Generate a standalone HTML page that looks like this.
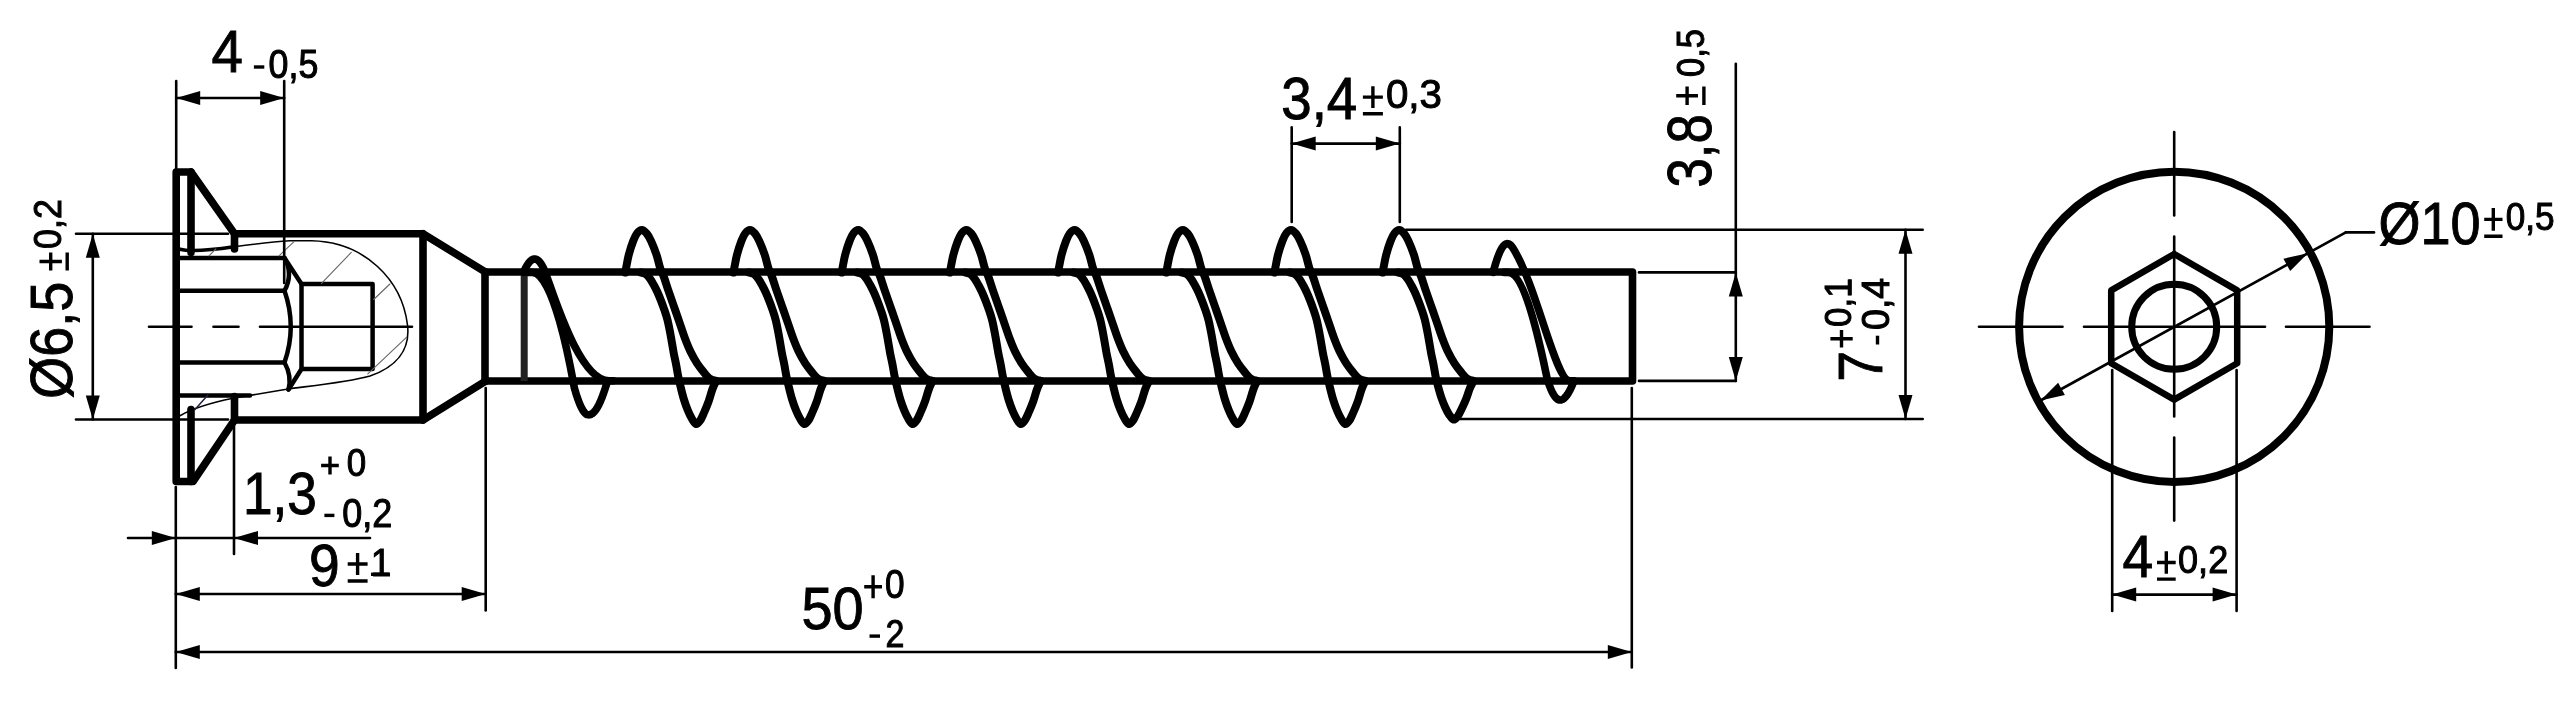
<!DOCTYPE html>
<html><head><meta charset="utf-8"><style>
html,body{margin:0;padding:0;background:#fff;overflow:hidden}
svg{display:block;will-change:transform}
text{font-family:"Liberation Sans",sans-serif;font-size:100px;fill:#000;stroke:#000;stroke-linejoin:miter}
</style></head><body>
<svg width="2565" height="721" viewBox="0 0 2565 721">
<rect width="2565" height="721" fill="#fff"/>
<g fill="none" stroke="#000" stroke-linecap="round" stroke-linejoin="round">
<polyline points="191.0,252.5 191.0,172.0 176.2,172.0 176.2,481.5 193.0,481.5 234.3,420.3" stroke-width="7.6" />
<polyline points="191.0,172.0 234.5,233.7 234.5,249.0" stroke-width="7.6" />
<polyline points="191.0,409.5 191.0,481.5" stroke-width="7.6" />
<polyline points="234.5,396.5 234.5,420.0" stroke-width="7.6" />
<polyline points="234.5,233.7 423.0,233.7 423.0,420.0 234.5,420.0" stroke-width="7.6" />
<polyline points="423.0,233.7 485.0,271.8" stroke-width="7.6" />
<polyline points="423.0,420.0 485.0,381.5" stroke-width="7.6" />
<polyline points="485.0,271.8 485.0,381.5" stroke-width="7.6" />
<polyline points="485.0,272.0 1632.5,272.0 1632.5,381.0 485.0,381.0" stroke-width="7.6" />
<line x1="524.2" y1="272.0" x2="524.2" y2="381.0" stroke-width="7" stroke="#222" stroke-linecap="butt"/>
<polyline points="180.0,258.0 284.5,258.0" stroke-width="4.5" />
<polyline points="180.0,290.8 284.5,290.8" stroke-width="4.5" />
<polyline points="180.0,362.5 284.5,362.5" stroke-width="4.5" />
<polyline points="180.0,395.5 250.0,395.5" stroke-width="4.5" />
<polyline points="284.5,258.0 301.5,284.0" stroke-width="4.5" />
<polyline points="288.5,389.5 301.5,369.0" stroke-width="4.5" />
<polyline points="301.5,284.0 372.6,284.0 372.6,369.0 301.5,369.0 301.5,284.0" stroke-width="4.5" />
<path d="M284.5,258 Q293.5,274 284.5,290.8" stroke-width="4.5" />
<path d="M284.5,290.8 Q297,326.7 284.5,362.5" stroke-width="4.5" />
<path d="M284.5,362.5 Q292,376 288.5,389.5" stroke-width="4.5" />
<path d="M180,249.2 C190,252 205,251 234,246.8" stroke-width="3.6" />
<path d="M234,246.8 C255,244 270,242 290,240.8 L311.5,240.8 C365,242 402,280 407.5,325 C410.5,350 396,367 370,376 C345,383 300,387 288.2,389 C265,393 240,397 233,398.3 C210,403 190,410 180,415.7" stroke-width="1.6" />
<line x1="209.0" y1="255.8" x2="215.8" y2="249.0" stroke-width="1.1" stroke="#666"/>
<line x1="279.0" y1="255.8" x2="294.0" y2="241.6" stroke-width="1.1" stroke="#666"/>
<line x1="321.5" y1="283.3" x2="351.3" y2="252.4" stroke-width="1.1" stroke="#666"/>
<line x1="373.7" y1="299.5" x2="389.9" y2="284.0" stroke-width="1.1" stroke="#666"/>
<line x1="367.8" y1="373.8" x2="406.7" y2="337.2" stroke-width="1.1" stroke="#666"/>
<line x1="195.0" y1="409.6" x2="207.9" y2="395.1" stroke-width="1.5" stroke="#224"/>
<line x1="149.0" y1="326.7" x2="191.5" y2="326.7" stroke-width="2.6" />
<line x1="213.5" y1="326.7" x2="238.5" y2="326.7" stroke-width="2.6" />
<line x1="260.0" y1="326.7" x2="412.0" y2="326.7" stroke-width="2.6" />
<path d="M523.48,272.38 L524.00,271.23 L524.52,270.11 L525.04,269.05 L525.57,268.03 L526.09,267.06 L526.61,266.13 L527.13,265.26 L527.65,264.45 L528.17,263.68 L528.69,262.97 L529.21,262.32 L529.74,261.72 L530.26,261.18 L530.78,260.69 L531.30,260.27 L531.82,259.90 L532.34,259.60 L532.86,259.35 L533.38,259.17 L533.91,259.05 L534.43,258.99 L534.95,259.00 L535.47,259.07 L535.99,259.20 L536.51,259.39 L537.03,259.65 L537.55,259.97 L538.08,260.36 L538.60,260.81 L539.12,261.33 L539.64,261.91 L540.16,262.55 L540.68,263.26 L541.20,264.03 L541.72,264.86 L542.25,265.75 L542.77,266.71 L543.29,267.73 L543.81,268.81 C550.55,283.15 577.19,380.80 609.28,380.80 L613.28,380.8" stroke-width="7.6" />
<path d="M528.20,272.4 L532.20,272.40 C555.52,272.40 573.66,385.41 574.34,387.83 L574.34,387.83 L574.88,389.71 L575.42,391.54 L575.96,393.31 L576.50,395.02 L577.04,396.68 L577.57,398.28 L578.11,399.81 L578.65,401.27 L579.19,402.67 L579.73,404.01 L580.27,405.27 L580.81,406.46 L581.35,407.57 L581.89,408.61 L582.42,409.58 L582.96,410.47 L583.50,411.27 L584.04,412.00 L584.58,412.65 L585.12,413.22 L585.66,413.70 L586.20,414.10 L586.74,414.41 L587.30,414.64 L587.97,414.78 L588.63,414.84 L589.29,414.81 L589.96,414.69 L590.62,414.49 L591.28,414.19 L591.95,413.81 L592.61,413.34 L593.28,412.78 L593.94,412.14 L594.60,411.41 L595.27,410.59 L595.93,409.68 L596.60,408.69 L597.26,407.61 L597.92,406.44 L598.59,405.20 L599.25,403.87 L599.92,402.45 L600.58,400.96 L601.24,399.39 L601.91,397.73 L602.57,396.00 L603.24,394.20 L603.90,392.32 L604.56,390.36 L605.23,388.33 L605.89,386.24 L606.56,384.08 L607.22,381.85 L607.52,380.82" stroke-width="7.6" />
<path d="M625.10,272.50 C625.40,271.17 625.38,271.47 626.00,268.50 C626.62,265.53 627.58,259.32 628.80,254.70 C630.02,250.08 631.93,244.35 633.30,240.80 C634.67,237.25 635.58,235.22 637.00,233.40 C638.42,231.58 640.17,229.87 641.80,229.90 C643.43,229.93 645.27,231.78 646.80,233.60 C648.33,235.42 649.38,237.28 651.00,240.80 C652.62,244.32 654.95,250.08 656.50,254.70 C658.05,259.32 659.07,264.78 660.30,268.50 C661.53,272.22 662.58,273.42 663.90,277.00 C665.22,280.58 666.58,285.25 668.20,290.00 C669.82,294.75 671.80,300.33 673.60,305.50 C675.40,310.67 677.12,315.55 679.00,321.00 C680.88,326.45 683.03,333.20 684.90,338.20 C686.77,343.20 688.17,346.80 690.20,351.00 C692.23,355.20 694.73,359.73 697.10,363.40 C699.47,367.07 702.32,370.48 704.40,373.00 C706.48,375.52 707.73,377.20 709.60,378.50 C711.47,379.80 712.93,380.42 715.60,380.80" stroke-width="8" />
<path d="M640.60,272.50 C643.17,272.80 644.35,273.17 646.00,274.30 C647.65,275.43 649.15,277.43 650.50,279.30 C651.85,281.17 652.92,283.30 654.10,285.50 C655.28,287.70 656.43,289.92 657.60,292.50 C658.77,295.08 659.97,298.08 661.10,301.00 C662.23,303.92 663.33,306.83 664.40,310.00 C665.47,313.17 666.50,316.00 667.50,320.00 C668.50,324.00 669.38,328.60 670.40,334.00 C671.42,339.40 672.65,347.32 673.60,352.40 C674.55,357.48 675.32,360.43 676.10,364.50 C676.88,368.57 677.50,372.88 678.30,376.80 C679.10,380.72 679.93,384.13 680.90,388.00 C681.87,391.87 682.93,396.25 684.10,400.00 C685.27,403.75 686.62,407.42 687.90,410.50 C689.18,413.58 690.45,416.25 691.80,418.50 C693.15,420.75 694.60,423.67 696.00,424.00 C697.40,424.33 698.85,422.42 700.20,420.50 C701.55,418.58 702.67,415.78 704.10,412.50 C705.53,409.22 707.40,404.72 708.80,400.80 C710.20,396.88 711.28,392.30 712.50,389.00 C713.72,385.70 714.90,383.67 716.10,381.00" stroke-width="8" />
<path d="M733.30,272.50 C733.60,271.17 733.58,271.47 734.20,268.50 C734.82,265.53 735.78,259.32 737.00,254.70 C738.22,250.08 740.13,244.35 741.50,240.80 C742.87,237.25 743.78,235.22 745.20,233.40 C746.62,231.58 748.37,229.87 750.00,229.90 C751.63,229.93 753.47,231.78 755.00,233.60 C756.53,235.42 757.58,237.28 759.20,240.80 C760.82,244.32 763.15,250.08 764.70,254.70 C766.25,259.32 767.27,264.78 768.50,268.50 C769.73,272.22 770.78,273.42 772.10,277.00 C773.42,280.58 774.78,285.25 776.40,290.00 C778.02,294.75 780.00,300.33 781.80,305.50 C783.60,310.67 785.32,315.55 787.20,321.00 C789.08,326.45 791.23,333.20 793.10,338.20 C794.97,343.20 796.37,346.80 798.40,351.00 C800.43,355.20 802.93,359.73 805.30,363.40 C807.67,367.07 810.52,370.48 812.60,373.00 C814.68,375.52 815.93,377.20 817.80,378.50 C819.67,379.80 821.13,380.42 823.80,380.80" stroke-width="8" />
<path d="M748.80,272.50 C751.37,272.80 752.55,273.17 754.20,274.30 C755.85,275.43 757.35,277.43 758.70,279.30 C760.05,281.17 761.12,283.30 762.30,285.50 C763.48,287.70 764.63,289.92 765.80,292.50 C766.97,295.08 768.17,298.08 769.30,301.00 C770.43,303.92 771.53,306.83 772.60,310.00 C773.67,313.17 774.70,316.00 775.70,320.00 C776.70,324.00 777.58,328.60 778.60,334.00 C779.62,339.40 780.85,347.32 781.80,352.40 C782.75,357.48 783.52,360.43 784.30,364.50 C785.08,368.57 785.70,372.88 786.50,376.80 C787.30,380.72 788.13,384.13 789.10,388.00 C790.07,391.87 791.13,396.25 792.30,400.00 C793.47,403.75 794.82,407.42 796.10,410.50 C797.38,413.58 798.65,416.25 800.00,418.50 C801.35,420.75 802.80,423.67 804.20,424.00 C805.60,424.33 807.05,422.42 808.40,420.50 C809.75,418.58 810.87,415.78 812.30,412.50 C813.73,409.22 815.60,404.72 817.00,400.80 C818.40,396.88 819.48,392.30 820.70,389.00 C821.92,385.70 823.10,383.67 824.30,381.00" stroke-width="8" />
<path d="M841.50,272.50 C841.80,271.17 841.78,271.47 842.40,268.50 C843.02,265.53 843.98,259.32 845.20,254.70 C846.42,250.08 848.33,244.35 849.70,240.80 C851.07,237.25 851.98,235.22 853.40,233.40 C854.82,231.58 856.57,229.87 858.20,229.90 C859.83,229.93 861.67,231.78 863.20,233.60 C864.73,235.42 865.78,237.28 867.40,240.80 C869.02,244.32 871.35,250.08 872.90,254.70 C874.45,259.32 875.47,264.78 876.70,268.50 C877.93,272.22 878.98,273.42 880.30,277.00 C881.62,280.58 882.98,285.25 884.60,290.00 C886.22,294.75 888.20,300.33 890.00,305.50 C891.80,310.67 893.52,315.55 895.40,321.00 C897.28,326.45 899.43,333.20 901.30,338.20 C903.17,343.20 904.57,346.80 906.60,351.00 C908.63,355.20 911.13,359.73 913.50,363.40 C915.87,367.07 918.72,370.48 920.80,373.00 C922.88,375.52 924.13,377.20 926.00,378.50 C927.87,379.80 929.33,380.42 932.00,380.80" stroke-width="8" />
<path d="M857.00,272.50 C859.57,272.80 860.75,273.17 862.40,274.30 C864.05,275.43 865.55,277.43 866.90,279.30 C868.25,281.17 869.32,283.30 870.50,285.50 C871.68,287.70 872.83,289.92 874.00,292.50 C875.17,295.08 876.37,298.08 877.50,301.00 C878.63,303.92 879.73,306.83 880.80,310.00 C881.87,313.17 882.90,316.00 883.90,320.00 C884.90,324.00 885.78,328.60 886.80,334.00 C887.82,339.40 889.05,347.32 890.00,352.40 C890.95,357.48 891.72,360.43 892.50,364.50 C893.28,368.57 893.90,372.88 894.70,376.80 C895.50,380.72 896.33,384.13 897.30,388.00 C898.27,391.87 899.33,396.25 900.50,400.00 C901.67,403.75 903.02,407.42 904.30,410.50 C905.58,413.58 906.85,416.25 908.20,418.50 C909.55,420.75 911.00,423.67 912.40,424.00 C913.80,424.33 915.25,422.42 916.60,420.50 C917.95,418.58 919.07,415.78 920.50,412.50 C921.93,409.22 923.80,404.72 925.20,400.80 C926.60,396.88 927.68,392.30 928.90,389.00 C930.12,385.70 931.30,383.67 932.50,381.00" stroke-width="8" />
<path d="M949.70,272.50 C950.00,271.17 949.98,271.47 950.60,268.50 C951.22,265.53 952.18,259.32 953.40,254.70 C954.62,250.08 956.53,244.35 957.90,240.80 C959.27,237.25 960.18,235.22 961.60,233.40 C963.02,231.58 964.77,229.87 966.40,229.90 C968.03,229.93 969.87,231.78 971.40,233.60 C972.93,235.42 973.98,237.28 975.60,240.80 C977.22,244.32 979.55,250.08 981.10,254.70 C982.65,259.32 983.67,264.78 984.90,268.50 C986.13,272.22 987.18,273.42 988.50,277.00 C989.82,280.58 991.18,285.25 992.80,290.00 C994.42,294.75 996.40,300.33 998.20,305.50 C1000.00,310.67 1001.72,315.55 1003.60,321.00 C1005.48,326.45 1007.63,333.20 1009.50,338.20 C1011.37,343.20 1012.77,346.80 1014.80,351.00 C1016.83,355.20 1019.33,359.73 1021.70,363.40 C1024.07,367.07 1026.92,370.48 1029.00,373.00 C1031.08,375.52 1032.33,377.20 1034.20,378.50 C1036.07,379.80 1037.53,380.42 1040.20,380.80" stroke-width="8" />
<path d="M965.20,272.50 C967.77,272.80 968.95,273.17 970.60,274.30 C972.25,275.43 973.75,277.43 975.10,279.30 C976.45,281.17 977.52,283.30 978.70,285.50 C979.88,287.70 981.03,289.92 982.20,292.50 C983.37,295.08 984.57,298.08 985.70,301.00 C986.83,303.92 987.93,306.83 989.00,310.00 C990.07,313.17 991.10,316.00 992.10,320.00 C993.10,324.00 993.98,328.60 995.00,334.00 C996.02,339.40 997.25,347.32 998.20,352.40 C999.15,357.48 999.92,360.43 1000.70,364.50 C1001.48,368.57 1002.10,372.88 1002.90,376.80 C1003.70,380.72 1004.53,384.13 1005.50,388.00 C1006.47,391.87 1007.53,396.25 1008.70,400.00 C1009.87,403.75 1011.22,407.42 1012.50,410.50 C1013.78,413.58 1015.05,416.25 1016.40,418.50 C1017.75,420.75 1019.20,423.67 1020.60,424.00 C1022.00,424.33 1023.45,422.42 1024.80,420.50 C1026.15,418.58 1027.27,415.78 1028.70,412.50 C1030.13,409.22 1032.00,404.72 1033.40,400.80 C1034.80,396.88 1035.88,392.30 1037.10,389.00 C1038.32,385.70 1039.50,383.67 1040.70,381.00" stroke-width="8" />
<path d="M1057.90,272.50 C1058.20,271.17 1058.18,271.47 1058.80,268.50 C1059.42,265.53 1060.38,259.32 1061.60,254.70 C1062.82,250.08 1064.73,244.35 1066.10,240.80 C1067.47,237.25 1068.38,235.22 1069.80,233.40 C1071.22,231.58 1072.97,229.87 1074.60,229.90 C1076.23,229.93 1078.07,231.78 1079.60,233.60 C1081.13,235.42 1082.18,237.28 1083.80,240.80 C1085.42,244.32 1087.75,250.08 1089.30,254.70 C1090.85,259.32 1091.87,264.78 1093.10,268.50 C1094.33,272.22 1095.38,273.42 1096.70,277.00 C1098.02,280.58 1099.38,285.25 1101.00,290.00 C1102.62,294.75 1104.60,300.33 1106.40,305.50 C1108.20,310.67 1109.92,315.55 1111.80,321.00 C1113.68,326.45 1115.83,333.20 1117.70,338.20 C1119.57,343.20 1120.97,346.80 1123.00,351.00 C1125.03,355.20 1127.53,359.73 1129.90,363.40 C1132.27,367.07 1135.12,370.48 1137.20,373.00 C1139.28,375.52 1140.53,377.20 1142.40,378.50 C1144.27,379.80 1145.73,380.42 1148.40,380.80" stroke-width="8" />
<path d="M1073.40,272.50 C1075.97,272.80 1077.15,273.17 1078.80,274.30 C1080.45,275.43 1081.95,277.43 1083.30,279.30 C1084.65,281.17 1085.72,283.30 1086.90,285.50 C1088.08,287.70 1089.23,289.92 1090.40,292.50 C1091.57,295.08 1092.77,298.08 1093.90,301.00 C1095.03,303.92 1096.13,306.83 1097.20,310.00 C1098.27,313.17 1099.30,316.00 1100.30,320.00 C1101.30,324.00 1102.18,328.60 1103.20,334.00 C1104.22,339.40 1105.45,347.32 1106.40,352.40 C1107.35,357.48 1108.12,360.43 1108.90,364.50 C1109.68,368.57 1110.30,372.88 1111.10,376.80 C1111.90,380.72 1112.73,384.13 1113.70,388.00 C1114.67,391.87 1115.73,396.25 1116.90,400.00 C1118.07,403.75 1119.42,407.42 1120.70,410.50 C1121.98,413.58 1123.25,416.25 1124.60,418.50 C1125.95,420.75 1127.40,423.67 1128.80,424.00 C1130.20,424.33 1131.65,422.42 1133.00,420.50 C1134.35,418.58 1135.47,415.78 1136.90,412.50 C1138.33,409.22 1140.20,404.72 1141.60,400.80 C1143.00,396.88 1144.08,392.30 1145.30,389.00 C1146.52,385.70 1147.70,383.67 1148.90,381.00" stroke-width="8" />
<path d="M1166.10,272.50 C1166.40,271.17 1166.38,271.47 1167.00,268.50 C1167.62,265.53 1168.58,259.32 1169.80,254.70 C1171.02,250.08 1172.93,244.35 1174.30,240.80 C1175.67,237.25 1176.58,235.22 1178.00,233.40 C1179.42,231.58 1181.17,229.87 1182.80,229.90 C1184.43,229.93 1186.27,231.78 1187.80,233.60 C1189.33,235.42 1190.38,237.28 1192.00,240.80 C1193.62,244.32 1195.95,250.08 1197.50,254.70 C1199.05,259.32 1200.07,264.78 1201.30,268.50 C1202.53,272.22 1203.58,273.42 1204.90,277.00 C1206.22,280.58 1207.58,285.25 1209.20,290.00 C1210.82,294.75 1212.80,300.33 1214.60,305.50 C1216.40,310.67 1218.12,315.55 1220.00,321.00 C1221.88,326.45 1224.03,333.20 1225.90,338.20 C1227.77,343.20 1229.17,346.80 1231.20,351.00 C1233.23,355.20 1235.73,359.73 1238.10,363.40 C1240.47,367.07 1243.32,370.48 1245.40,373.00 C1247.48,375.52 1248.73,377.20 1250.60,378.50 C1252.47,379.80 1253.93,380.42 1256.60,380.80" stroke-width="8" />
<path d="M1181.60,272.50 C1184.17,272.80 1185.35,273.17 1187.00,274.30 C1188.65,275.43 1190.15,277.43 1191.50,279.30 C1192.85,281.17 1193.92,283.30 1195.10,285.50 C1196.28,287.70 1197.43,289.92 1198.60,292.50 C1199.77,295.08 1200.97,298.08 1202.10,301.00 C1203.23,303.92 1204.33,306.83 1205.40,310.00 C1206.47,313.17 1207.50,316.00 1208.50,320.00 C1209.50,324.00 1210.38,328.60 1211.40,334.00 C1212.42,339.40 1213.65,347.32 1214.60,352.40 C1215.55,357.48 1216.32,360.43 1217.10,364.50 C1217.88,368.57 1218.50,372.88 1219.30,376.80 C1220.10,380.72 1220.93,384.13 1221.90,388.00 C1222.87,391.87 1223.93,396.25 1225.10,400.00 C1226.27,403.75 1227.62,407.42 1228.90,410.50 C1230.18,413.58 1231.45,416.25 1232.80,418.50 C1234.15,420.75 1235.60,423.67 1237.00,424.00 C1238.40,424.33 1239.85,422.42 1241.20,420.50 C1242.55,418.58 1243.67,415.78 1245.10,412.50 C1246.53,409.22 1248.40,404.72 1249.80,400.80 C1251.20,396.88 1252.28,392.30 1253.50,389.00 C1254.72,385.70 1255.90,383.67 1257.10,381.00" stroke-width="8" />
<path d="M1274.30,272.50 C1274.60,271.17 1274.58,271.47 1275.20,268.50 C1275.82,265.53 1276.78,259.32 1278.00,254.70 C1279.22,250.08 1281.13,244.35 1282.50,240.80 C1283.87,237.25 1284.78,235.22 1286.20,233.40 C1287.62,231.58 1289.37,229.87 1291.00,229.90 C1292.63,229.93 1294.47,231.78 1296.00,233.60 C1297.53,235.42 1298.58,237.28 1300.20,240.80 C1301.82,244.32 1304.15,250.08 1305.70,254.70 C1307.25,259.32 1308.27,264.78 1309.50,268.50 C1310.73,272.22 1311.78,273.42 1313.10,277.00 C1314.42,280.58 1315.78,285.25 1317.40,290.00 C1319.02,294.75 1321.00,300.33 1322.80,305.50 C1324.60,310.67 1326.32,315.55 1328.20,321.00 C1330.08,326.45 1332.23,333.20 1334.10,338.20 C1335.97,343.20 1337.37,346.80 1339.40,351.00 C1341.43,355.20 1343.93,359.73 1346.30,363.40 C1348.67,367.07 1351.52,370.48 1353.60,373.00 C1355.68,375.52 1356.93,377.20 1358.80,378.50 C1360.67,379.80 1362.13,380.42 1364.80,380.80" stroke-width="8" />
<path d="M1289.80,272.50 C1292.37,272.80 1293.55,273.17 1295.20,274.30 C1296.85,275.43 1298.35,277.43 1299.70,279.30 C1301.05,281.17 1302.12,283.30 1303.30,285.50 C1304.48,287.70 1305.63,289.92 1306.80,292.50 C1307.97,295.08 1309.17,298.08 1310.30,301.00 C1311.43,303.92 1312.53,306.83 1313.60,310.00 C1314.67,313.17 1315.70,316.00 1316.70,320.00 C1317.70,324.00 1318.58,328.60 1319.60,334.00 C1320.62,339.40 1321.85,347.32 1322.80,352.40 C1323.75,357.48 1324.52,360.43 1325.30,364.50 C1326.08,368.57 1326.70,372.88 1327.50,376.80 C1328.30,380.72 1329.13,384.13 1330.10,388.00 C1331.07,391.87 1332.13,396.25 1333.30,400.00 C1334.47,403.75 1335.82,407.42 1337.10,410.50 C1338.38,413.58 1339.65,416.25 1341.00,418.50 C1342.35,420.75 1343.80,423.67 1345.20,424.00 C1346.60,424.33 1348.05,422.42 1349.40,420.50 C1350.75,418.58 1351.87,415.78 1353.30,412.50 C1354.73,409.22 1356.60,404.72 1358.00,400.80 C1359.40,396.88 1360.48,392.30 1361.70,389.00 C1362.92,385.70 1364.10,383.67 1365.30,381.00" stroke-width="8" />
<path d="M1382.50,272.50 C1382.80,271.17 1382.78,271.47 1383.40,268.50 C1384.02,265.53 1384.98,259.32 1386.20,254.70 C1387.42,250.08 1389.33,244.35 1390.70,240.80 C1392.07,237.25 1392.98,235.22 1394.40,233.40 C1395.82,231.58 1397.57,229.87 1399.20,229.90 C1400.83,229.93 1402.67,231.78 1404.20,233.60 C1405.73,235.42 1406.78,237.28 1408.40,240.80 C1410.02,244.32 1412.35,250.08 1413.90,254.70 C1415.45,259.32 1416.47,264.78 1417.70,268.50 C1418.93,272.22 1419.98,273.42 1421.30,277.00 C1422.62,280.58 1423.98,285.25 1425.60,290.00 C1427.22,294.75 1429.20,300.33 1431.00,305.50 C1432.80,310.67 1434.52,315.55 1436.40,321.00 C1438.28,326.45 1440.43,333.20 1442.30,338.20 C1444.17,343.20 1445.57,346.80 1447.60,351.00 C1449.63,355.20 1452.13,359.73 1454.50,363.40 C1456.87,367.07 1459.72,370.48 1461.80,373.00 C1463.88,375.52 1465.13,377.20 1467.00,378.50 C1468.87,379.80 1470.33,380.42 1473.00,380.80" stroke-width="8" />
<path d="M1398.00,272.50 C1400.57,272.80 1401.75,273.17 1403.40,274.30 C1405.05,275.43 1406.55,277.43 1407.90,279.30 C1409.25,281.17 1410.32,283.30 1411.50,285.50 C1412.68,287.70 1413.83,289.92 1415.00,292.50 C1416.17,295.08 1417.37,298.08 1418.50,301.00 C1419.63,303.92 1420.73,306.83 1421.80,310.00 C1422.87,313.17 1423.90,316.00 1424.90,320.00 C1425.90,324.00 1426.78,328.60 1427.80,334.00 C1428.82,339.40 1430.05,347.32 1431.00,352.40 C1431.95,357.48 1432.72,360.43 1433.50,364.50 C1434.28,368.57 1434.90,373.00 1435.70,376.80 C1436.50,380.60 1437.33,383.74 1438.30,387.28 C1439.27,390.83 1440.33,394.69 1441.50,398.06 C1442.67,401.42 1444.02,404.71 1445.30,407.48 C1446.58,410.25 1447.85,412.64 1449.20,414.66 C1450.55,416.68 1452.00,419.30 1453.40,419.60 C1454.80,419.90 1456.25,418.18 1457.60,416.46 C1458.95,414.74 1460.07,412.22 1461.50,409.28 C1462.93,406.33 1464.80,402.29 1466.20,398.77 C1467.60,395.26 1468.68,391.14 1469.90,388.18 C1471.12,385.22 1472.30,383.39 1473.50,381.00" stroke-width="8" />
<path d="M1493.14,272.38 L1493.64,270.47 L1494.15,268.62 L1494.65,266.82 L1495.16,265.09 L1495.66,263.41 L1496.17,261.79 L1496.67,260.24 L1497.18,258.75 L1497.68,257.32 L1498.19,255.96 L1498.69,254.66 L1499.20,253.44 L1499.70,252.28 L1500.20,251.19 L1500.71,250.18 L1501.21,249.23 L1501.72,248.36 L1502.22,247.56 L1502.73,246.83 L1503.23,246.18 L1503.74,245.60 L1504.24,245.09 L1504.75,244.66 L1505.25,244.31 L1505.76,244.03 L1506.26,243.83 L1506.77,243.70 L1507.27,243.64 L1507.77,243.67 L1508.28,243.76 L1508.78,243.93 L1509.29,244.18 L1509.79,244.50 L1510.30,244.89 L1510.80,245.36 L1511.31,245.90 L1511.81,246.51 L1512.32,247.19 L1512.82,247.94 C1536.94,285.56 1555.20,380.80 1569.74,380.80 L1573.74,380.8" stroke-width="7.6" />
<path d="M1504.11,272.4 L1508.11,272.40 C1527.77,272.40 1545.81,374.84 1547.60,380.29 L1547.60,380.29 L1548.13,381.89 L1548.67,383.43 L1549.20,384.91 L1549.73,386.33 L1550.27,387.69 L1550.80,388.97 L1551.34,390.20 L1551.87,391.35 L1552.41,392.44 L1552.94,393.45 L1553.48,394.40 L1554.01,395.27 L1554.54,396.08 L1555.08,396.81 L1555.61,397.47 L1556.15,398.05 L1556.68,398.56 L1557.22,399.00 L1557.75,399.36 L1558.28,399.65 L1558.82,399.86 L1559.35,400.00 L1559.89,400.06 L1560.42,400.05 L1560.98,399.96 L1561.57,399.80 L1562.17,399.57 L1562.77,399.26 L1563.37,398.88 L1563.97,398.43 L1564.56,397.91 L1565.16,397.32 L1565.76,396.65 L1566.36,395.92 L1566.96,395.12 L1567.55,394.25 L1568.15,393.32 L1568.75,392.32 L1569.35,391.25 L1569.95,390.13 L1570.54,388.94 L1571.14,387.69 L1571.74,386.39 L1572.34,385.03 L1572.94,383.61 L1573.53,382.14 L1574.06,380.81" stroke-width="7.6" />
<circle cx="2174.2" cy="326.8" r="155.1" stroke-width="8"/>
<circle cx="2174.2" cy="326.8" r="42.5" stroke-width="7"/>
<polyline points="2174.2,254.0 2237.2,290.4 2237.2,363.2 2174.2,399.6 2111.2,363.2 2111.2,290.4 2174.2,254.0" stroke-width="6.5" />
<line x1="1979.0" y1="326.8" x2="2062.5" y2="326.8" stroke-width="2.6" />
<line x1="2084.0" y1="326.8" x2="2265.0" y2="326.8" stroke-width="2.6" />
<line x1="2286.0" y1="326.8" x2="2369.5" y2="326.8" stroke-width="2.6" />
<line x1="2174.2" y1="132.0" x2="2174.2" y2="215.4" stroke-width="2.6" />
<line x1="2174.2" y1="236.6" x2="2174.2" y2="416.5" stroke-width="2.6" />
<line x1="2174.2" y1="437.6" x2="2174.2" y2="520.6" stroke-width="2.6" />
<line x1="2040.5" y1="400.5" x2="2345.8" y2="232.4" stroke-width="2.6" />
<line x1="2345.8" y1="232.4" x2="2374.0" y2="232.4" stroke-width="2.6" />
<polygon points="2040.5,400.5 2058.1,382.8 2064.9,395.1" fill="#000" stroke="none"/>
<polygon points="2307.8,253.3 2290.2,271.0 2283.4,258.7" fill="#000" stroke="none"/>
<line x1="2112.2" y1="370.0" x2="2112.2" y2="611.0" stroke-width="2.6" />
<line x1="2236.6" y1="370.0" x2="2236.6" y2="611.0" stroke-width="2.6" />
<line x1="2112.2" y1="594.6" x2="2236.6" y2="594.6" stroke-width="2.6" />
<polygon points="2112.2,594.6 2136.2,587.6 2136.2,601.6" fill="#000" stroke="none"/>
<polygon points="2236.6,594.6 2212.6,601.6 2212.6,587.6" fill="#000" stroke="none"/>
<line x1="176.2" y1="81.0" x2="176.2" y2="172.0" stroke-width="2.6" />
<line x1="284.2" y1="81.0" x2="284.2" y2="283.0" stroke-width="2.6" />
<line x1="176.2" y1="98.0" x2="284.2" y2="98.0" stroke-width="2.6" />
<polygon points="176.2,98.0 200.2,91.0 200.2,105.0" fill="#000" stroke="none"/>
<polygon points="284.2,98.0 260.2,105.0 260.2,91.0" fill="#000" stroke="none"/>
<line x1="76.0" y1="233.8" x2="228.0" y2="233.8" stroke-width="2.6" />
<line x1="76.0" y1="419.5" x2="228.0" y2="419.5" stroke-width="2.6" />
<line x1="92.8" y1="233.8" x2="92.8" y2="419.5" stroke-width="2.6" />
<polygon points="92.8,233.8 99.8,257.8 85.8,257.8" fill="#000" stroke="none"/>
<polygon points="92.8,419.5 85.8,395.5 99.8,395.5" fill="#000" stroke="none"/>
<line x1="175.8" y1="487.0" x2="175.8" y2="668.0" stroke-width="2.6" />
<line x1="234.0" y1="426.0" x2="234.0" y2="554.0" stroke-width="2.6" />
<line x1="485.7" y1="388.0" x2="485.7" y2="610.5" stroke-width="2.6" />
<line x1="1631.8" y1="388.0" x2="1631.8" y2="667.5" stroke-width="2.6" />
<line x1="128.0" y1="538.0" x2="370.0" y2="538.0" stroke-width="2.6" />
<polygon points="175.8,538.0 151.8,545.0 151.8,531.0" fill="#000" stroke="none"/>
<polygon points="234.0,538.0 258.0,531.0 258.0,545.0" fill="#000" stroke="none"/>
<line x1="175.8" y1="594.0" x2="485.7" y2="594.0" stroke-width="2.6" />
<polygon points="175.8,594.0 199.8,587.0 199.8,601.0" fill="#000" stroke="none"/>
<polygon points="485.7,594.0 461.7,601.0 461.7,587.0" fill="#000" stroke="none"/>
<line x1="175.8" y1="652.0" x2="1631.8" y2="652.0" stroke-width="2.6" />
<polygon points="175.8,652.0 199.8,645.0 199.8,659.0" fill="#000" stroke="none"/>
<polygon points="1631.8,652.0 1607.8,659.0 1607.8,645.0" fill="#000" stroke="none"/>
<line x1="1291.7" y1="127.4" x2="1291.7" y2="222.0" stroke-width="2.6" />
<line x1="1399.8" y1="127.4" x2="1399.8" y2="222.0" stroke-width="2.6" />
<line x1="1291.7" y1="143.6" x2="1399.8" y2="143.6" stroke-width="2.6" />
<polygon points="1291.7,143.6 1315.7,136.6 1315.7,150.6" fill="#000" stroke="none"/>
<polygon points="1399.8,143.6 1375.8,150.6 1375.8,136.6" fill="#000" stroke="none"/>
<line x1="1406.0" y1="229.8" x2="1922.7" y2="229.8" stroke-width="2.6" />
<line x1="1639.0" y1="272.4" x2="1735.8" y2="272.4" stroke-width="2.6" />
<line x1="1639.0" y1="380.9" x2="1735.8" y2="380.9" stroke-width="2.6" />
<line x1="1460.0" y1="419.0" x2="1922.7" y2="419.0" stroke-width="2.6" />
<line x1="1735.8" y1="63.7" x2="1735.8" y2="381.0" stroke-width="2.6" />
<polygon points="1735.8,272.6 1742.8,296.6 1728.8,296.6" fill="#000" stroke="none"/>
<polygon points="1735.8,381.0 1728.8,357.0 1742.8,357.0" fill="#000" stroke="none"/>
<line x1="1905.5" y1="229.8" x2="1905.5" y2="419.0" stroke-width="2.6" />
<polygon points="1905.5,229.8 1912.5,253.8 1898.5,253.8" fill="#000" stroke="none"/>
<polygon points="1905.5,419.0 1898.5,395.0 1912.5,395.0" fill="#000" stroke="none"/>
<text transform="translate(211.61,72.45) scale(0.5655,0.5988)" stroke-width="1.55">4</text>
<path d="M253.9,67.0 H264.3" stroke-width="3.4" stroke-linecap="butt"/>
<text transform="translate(268.57,77.80) scale(0.3578,0.3983)" stroke-width="2.65">0,5</text>
<text transform="translate(242.90,513.85) scale(0.5323,0.5974)" stroke-width="1.59">1,3</text>
<path d="M321.1,465.5 H338.8 M330.0,456.6 V474.4" stroke-width="3.4" stroke-linecap="butt"/>
<text transform="translate(346.80,476.10) scale(0.3494,0.3853)" stroke-width="2.72">0</text>
<path d="M324.4,515.4 H334.4" stroke-width="3.4" stroke-linecap="butt"/>
<text transform="translate(342.26,527.10) scale(0.3600,0.4012)" stroke-width="2.63">0,2</text>
<text transform="translate(308.91,586.35) scale(0.5519,0.5960)" stroke-width="1.57">9</text>
<path d="M347.7,564.0 H367.6 M357.6,553.0 V575.0 M347.7,581.0 H367.6" stroke-width="3.4" stroke-linecap="butt"/>
<text transform="translate(370.69,575.70) scale(0.3704,0.3838)" stroke-width="2.65">1</text>
<path d="M371.0,574.3 H389.0" stroke-width="3.4" stroke-linecap="butt"/>
<text transform="translate(801.51,629.45) scale(0.5590,0.5960)" stroke-width="1.56">50</text>
<path d="M864.2,586.7 H882.0 M873.1,575.2 V598.2" stroke-width="3.4" stroke-linecap="butt"/>
<text transform="translate(885.09,598.40) scale(0.3515,0.4040)" stroke-width="2.65">0</text>
<path d="M869.5,636.1 H880.0" stroke-width="3.4" stroke-linecap="butt"/>
<text transform="translate(885.40,647.20) scale(0.3399,0.3954)" stroke-width="2.72">2</text>
<text transform="translate(1281.27,119.05) scale(0.5469,0.5988)" stroke-width="1.57">3,4</text>
<path d="M1362.9,97.1 H1382.9 M1372.9,86.2 V107.9 M1362.9,113.7 H1382.9" stroke-width="3.4" stroke-linecap="butt"/>
<text transform="translate(1385.89,108.00) scale(0.4035,0.3997)" stroke-width="2.49">0,3</text>
<text transform="translate(2378.51,243.55) scale(0.5402,0.5988)" stroke-width="1.58">Ø10</text>
<path d="M2424.8,241.9 H2446.5" stroke-width="4.4" stroke-linecap="butt"/>
<path d="M2484.2,219.4 H2502.5 M2493.3,207.9 V230.8 M2484.2,236.2 H2502.5" stroke-width="3.4" stroke-linecap="butt"/>
<text transform="translate(2505.69,230.10) scale(0.3517,0.3911)" stroke-width="2.69">0,5</text>
<text transform="translate(2122.54,577.35) scale(0.5516,0.5931)" stroke-width="1.57">4</text>
<path d="M2157.0,562.5 H2175.7 M2166.3,551.2 V573.7 M2157.0,579.1 H2175.7" stroke-width="3.4" stroke-linecap="butt"/>
<text transform="translate(2178.06,573.00) scale(0.3608,0.3911)" stroke-width="2.66">0,2</text>
<text transform="translate(71.95,398.69) rotate(-90) scale(0.5392,0.5887)" stroke-width="1.60">Ø6,5</text>
<path d="M50.7,252.6 V270.4 M39.5,261.5 H61.9 M67.2,252.6 V270.4" stroke-width="3.4" stroke-linecap="butt"/>
<text transform="translate(61.40,248.93) rotate(-90) scale(0.3577,0.3939)" stroke-width="2.66">0,2</text>
<text transform="translate(1710.55,187.56) rotate(-90) scale(0.5283,0.6219)" stroke-width="1.56">3,8</text>
<path d="M1687.1,86.6 V105.0 M1676.2,95.8 H1698.0 M1703.9,86.6 V105.0" stroke-width="3.4" stroke-linecap="butt"/>
<text transform="translate(1704.10,76.88) rotate(-90) scale(0.3448,0.3853)" stroke-width="2.74">0,5</text>
<text transform="translate(1881.55,381.82) rotate(-90) scale(0.5529,0.6219)" stroke-width="1.53">7</text>
<path d="M1841.5,330 V347.4 M1830.4,338.7 H1852.7" stroke-width="3.4" stroke-linecap="butt"/>
<text transform="translate(1851.20,326.90) rotate(-90) scale(0.3502,0.3766)" stroke-width="2.75">0,1</text>
<path d="M1850.0,279.4 V295.2" stroke-width="3.4" stroke-linecap="butt"/>
<path d="M1877.5,335.7 V344.5" stroke-width="3.4" stroke-linecap="butt"/>
<text transform="translate(1889.10,330.00) rotate(-90) scale(0.3758,0.3911)" stroke-width="2.61">0,4</text>
</g></svg></body></html>
